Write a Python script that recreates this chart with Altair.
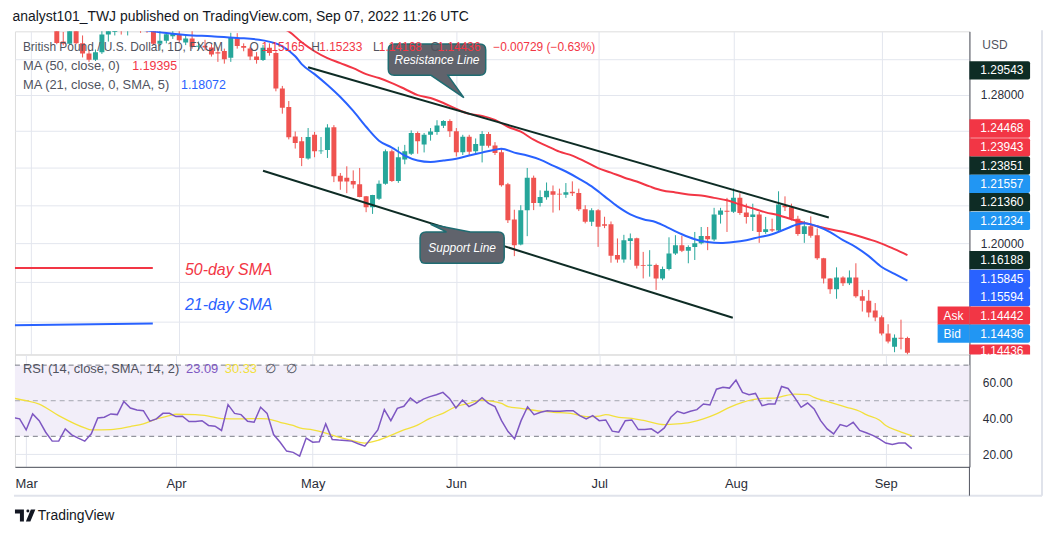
import json
import altair as alt
import pandas as pd

FONT = "Liberation Sans"

# ---------------- daily candles, bar index 0 = 1 Mar 2022 (Mon-Fri bars) ----------------
opens = [1.3415, 1.3285, 1.3380, 1.3340, 1.3255, 1.3100, 1.3088, 1.3180, 1.3090, 1.3033,
         1.2997, 1.3039, 1.3141, 1.3155, 1.3180, 1.3170, 1.3260, 1.3195, 1.3190, 1.3180,
         1.3088, 1.3105, 1.3130, 1.3141, 1.3095, 1.3117, 1.3070, 1.3076, 1.3066, 1.3040,
         1.3046, 1.3008, 1.3120, 1.3075, 1.3060, 1.3015, 1.2995, 1.3065, 1.3035, 1.2835,
         1.2733, 1.2571, 1.2545, 1.2451, 1.2580, 1.2490, 1.2497, 1.2622, 1.2358, 1.2347,
         1.2330, 1.2313, 1.2248, 1.2190, 1.2235, 1.2315, 1.2490, 1.2330, 1.2446, 1.2477,
         1.2590, 1.2527, 1.2580, 1.2595, 1.2630, 1.2655, 1.2600, 1.2485, 1.2570, 1.2490,
         1.2520, 1.2585, 1.2522, 1.2485, 1.2313, 1.2125, 1.1995, 1.2174, 1.2348, 1.2213,
         1.2243, 1.2275, 1.2262, 1.2256, 1.2272, 1.2266, 1.2180, 1.2113, 1.2174, 1.2100,
         1.2100, 1.1940, 1.1916, 1.2013, 1.2027, 1.1888, 1.1884, 1.1888, 1.1819, 1.1868,
         1.1948, 1.1991, 1.1962, 1.1981, 1.2001, 1.2039, 1.2020, 1.2150, 1.2172, 1.2166,
         1.2240, 1.2162, 1.2138, 1.2152, 1.2060, 1.2074, 1.2068, 1.2200, 1.2190, 1.2130,
         1.2049, 1.2090, 1.2043, 1.1923, 1.1819, 1.1763, 1.1824, 1.1794, 1.1824, 1.1728,
         1.1705, 1.1655, 1.1621, 1.1539, 1.1473, 1.1518, 1.15165]
highs = [1.3437, 1.3390, 1.3440, 1.3355, 1.3280, 1.3155, 1.3200, 1.3190, 1.3135, 1.3055,
         1.3055, 1.3165, 1.3210, 1.3200, 1.3200, 1.3300, 1.3300, 1.3220, 1.3230, 1.3185,
         1.3175, 1.3150, 1.3175, 1.3165, 1.3140, 1.3170, 1.3100, 1.3110, 1.3085, 1.3070,
         1.3060, 1.3150, 1.3148, 1.3090, 1.3070, 1.3040, 1.3080, 1.3090, 1.3045, 1.2850,
         1.2766, 1.2598, 1.2568, 1.2617, 1.2596, 1.2568, 1.2638, 1.2633, 1.2373, 1.2409,
         1.2387, 1.2400, 1.2250, 1.2256, 1.2333, 1.2500, 1.2500, 1.2515, 1.2525, 1.2604,
         1.2598, 1.2590, 1.2617, 1.2660, 1.2660, 1.2665, 1.2617, 1.2580, 1.2580, 1.2560,
         1.2600, 1.2595, 1.2540, 1.2505, 1.2320, 1.2177, 1.2201, 1.2400, 1.2359, 1.2280,
         1.2322, 1.2306, 1.2289, 1.2319, 1.2328, 1.2289, 1.2201, 1.2185, 1.2180, 1.2140,
         1.2115, 1.2026, 1.2045, 1.2052, 1.2030, 1.1956, 1.1965, 1.1895, 1.1880, 1.2032,
         1.2043, 1.2040, 1.1990, 1.2060, 1.2086, 1.2086, 1.2187, 1.2187, 1.2240, 1.2290,
         1.2265, 1.2209, 1.2209, 1.2165, 1.2139, 1.2130, 1.2275, 1.2248, 1.2209, 1.2145,
         1.2118, 1.2142, 1.2078, 1.1925, 1.1820, 1.1876, 1.1830, 1.1860, 1.1897, 1.1760,
         1.1760, 1.1693, 1.1630, 1.1586, 1.1535, 1.1609, 1.15233]
lows = [1.3272, 1.3275, 1.3310, 1.3235, 1.3085, 1.3078, 1.3082, 1.3085, 1.3010, 1.2985,
        1.2990, 1.3030, 1.3100, 1.3135, 1.3140, 1.3135, 1.3180, 1.3150, 1.3150, 1.3080,
        1.3050, 1.3090, 1.3115, 1.3095, 1.3080, 1.3060, 1.3050, 1.3050, 1.3015, 1.2985,
        1.2975, 1.2985, 1.3060, 1.3045, 1.2995, 1.2975, 1.2990, 1.3020, 1.2820, 1.2696,
        1.2555, 1.2505, 1.2410, 1.2445, 1.2458, 1.2476, 1.2454, 1.2324, 1.2283, 1.2265,
        1.2290, 1.2243, 1.2164, 1.2155, 1.2229, 1.2310, 1.2325, 1.2320, 1.2420, 1.2470,
        1.2477, 1.2484, 1.2548, 1.2580, 1.2617, 1.2568, 1.2462, 1.2470, 1.2470, 1.2470,
        1.2430, 1.2510, 1.2470, 1.2300, 1.2107, 1.1934, 1.1990, 1.2038, 1.2175, 1.2194,
        1.2230, 1.2162, 1.2174, 1.2240, 1.2250, 1.2170, 1.2105, 1.2091, 1.1982, 1.2080,
        1.1900, 1.1900, 1.1900, 1.1915, 1.1870, 1.1819, 1.1828, 1.1760, 1.1810, 1.1860,
        1.1940, 1.1955, 1.1897, 1.1914, 1.1995, 1.1965, 1.2012, 1.2104, 1.2060, 1.2160,
        1.2150, 1.2104, 1.2065, 1.2003, 1.2050, 1.2060, 1.2060, 1.2170, 1.2120, 1.2040,
        1.2003, 1.2030, 1.1915, 1.1793, 1.1740, 1.1715, 1.1780, 1.1785, 1.1720, 1.1650,
        1.1621, 1.1601, 1.1530, 1.1490, 1.1446, 1.1460, 1.14168]
closes = [1.3285, 1.3380, 1.3340, 1.3255, 1.3092, 1.3088, 1.3180, 1.3090, 1.3033, 1.2997,
          1.3039, 1.3141, 1.3170, 1.3180, 1.3170, 1.3260, 1.3195, 1.3190, 1.3185, 1.3088,
          1.3105, 1.3142, 1.3143, 1.3108, 1.3117, 1.3070, 1.3076, 1.3066, 1.3027, 1.3032,
          1.3000, 1.3125, 1.3075, 1.3065, 1.3015, 1.2995, 1.3065, 1.3035, 1.2835, 1.2729,
          1.2566, 1.2535, 1.2454, 1.2568, 1.2490, 1.2495, 1.2620, 1.2355, 1.2327, 1.2327,
          1.2311, 1.2245, 1.2190, 1.2255, 1.2315, 1.2490, 1.2330, 1.2458, 1.2490, 1.2590,
          1.2545, 1.2580, 1.2598, 1.2631, 1.2655, 1.2600, 1.2485, 1.2570, 1.2488, 1.2530,
          1.2585, 1.2520, 1.2481, 1.2307, 1.2121, 1.1991, 1.2174, 1.2348, 1.2213, 1.2244,
          1.2278, 1.2257, 1.2258, 1.2270, 1.2264, 1.2180, 1.2113, 1.2174, 1.2087, 1.2092,
          1.1936, 1.1916, 1.2017, 1.2027, 1.1884, 1.1884, 1.1890, 1.1819, 1.1868, 1.1948,
          1.1991, 1.1962, 1.1981, 1.2001, 1.2039, 1.2022, 1.2152, 1.2173, 1.2166, 1.2240,
          1.2160, 1.2138, 1.2152, 1.2060, 1.2074, 1.2068, 1.2205, 1.2190, 1.2130, 1.2049,
          1.2090, 1.2040, 1.1923, 1.1819, 1.1763, 1.1824, 1.1794, 1.1824, 1.1728, 1.1705,
          1.1645, 1.1620, 1.1539, 1.1500, 1.1518, 1.1513, 1.14436]

# ---------------- moving averages (bar index, value) ----------------
ma50_idx = list(range(38, 137, 2))
ma50_val = [1.3185, 1.3158, 1.3096, 1.3045, 1.3006, 1.2978, 1.2950, 1.2916, 1.2894, 1.2866,
            1.2833, 1.2799, 1.2783, 1.2755, 1.2722, 1.2695, 1.2684, 1.2662, 1.2624, 1.2597,
            1.2553, 1.2520, 1.2488, 1.2467, 1.2434, 1.2399, 1.2375, 1.2349, 1.2327, 1.2301,
            1.2279, 1.2269, 1.2258, 1.2253, 1.2240, 1.2227, 1.2205, 1.2184, 1.2163, 1.2148,
            1.2127, 1.2108, 1.2090, 1.2074, 1.2061, 1.2043, 1.2022, 1.1999, 1.1970, 1.19395]
ma21_idx = [16, 20, 24, 28, 32, 36, 39, 41, 42, 44, 46, 48, 50, 52, 54, 56, 58, 60, 62, 64,
            66, 68, 70, 72, 73, 75, 77, 79, 81, 83, 85, 87, 89, 91, 93, 95, 97, 99, 101, 103,
            105, 107, 109, 111, 113, 115, 117, 119, 120, 122, 124, 126, 128, 130, 132, 134, 136]
ma21_val = [1.3175, 1.3153, 1.3138, 1.3130, 1.3121, 1.3107, 1.3073, 1.3017, 1.2972, 1.2916,
            1.2855, 1.2788, 1.2711, 1.2624, 1.2548, 1.2510, 1.2467, 1.2440, 1.2432, 1.2440,
            1.2450, 1.2467, 1.2483, 1.2499, 1.2504, 1.2483, 1.2467, 1.2445, 1.2413, 1.2381,
            1.2343, 1.2301, 1.2248, 1.2195, 1.2153, 1.2127, 1.2111, 1.2080, 1.2048, 1.2022,
            1.2007, 1.2002, 1.2007, 1.2017, 1.2033, 1.2048, 1.2074, 1.2100, 1.2106, 1.2090,
            1.2059, 1.2017, 1.1981, 1.1934, 1.1878, 1.1842, 1.18072]

# ---------------- drawings ----------------
res_idx = [43.0, 123.8]
res_val = [1.29543, 1.21360]
sup_idx = [36.0, 108.9]
sup_val = [1.23851, 1.16188]
note50_idx = [-3.0, 18.9]
note50_val = [1.18727, 1.18727]
note21_idx = [-3.0, 18.9]
note21_val = [1.15810, 1.15903]
note_text = ["50-day SMA", "21-day SMA"]
note_text_idx = [23.9, 23.9]
note_text_val = [1.18624, 1.16844]
callout_text = ["Resistance Line", "Support Line"]
callout_idx = [63.0, 66.9]
callout_val = [1.2996, 1.1978]

# ---------------- price-scale labels ----------------
box_labels = ["1.29543", "1.24468", "1.23943", "1.23851", "1.21557", "1.21360", "1.21234",
              "1.16188", "1.15845", "1.15594", "1.14442", "1.14436"]
box_pos = [1.29367, 1.26145, 1.25113, 1.24128, 1.23151, 1.22176, 1.21177,
           1.19138, 1.18164, 1.17233, 1.16291, 1.15390]
box_kind = ["dark", "red", "red", "dark", "sky", "dark", "sky",
            "dark", "blue", "blue", "red", "sky"]
last_label = ["1.14436"]
last_pos = [1.14510]
side_labels = ["Ask", "Bid"]
side_pos = [1.16291, 1.15390]
side_kind = ["red", "sky"]
price_grid = [1.16, 1.18, 1.20, 1.22, 1.24, 1.26, 1.28, 1.30]

# ---------------- RSI ----------------
rsi_idx = list(range(-2, 137))
rsi_val = [40.5, 39.8,
           33.6, 42.6, 38.8, 32.3, 27.3, 27.3, 34.2, 30.8, 29.0, 27.3,
           31.4, 40.3, 40.7, 42.6, 42.2, 49.6, 45.9, 44.8, 44.4, 38.5,
           39.8, 42.9, 42.9, 41.1, 41.3, 38.3, 38.3, 38.8, 36.1, 35.7,
           33.3, 47.8, 42.9, 42.2, 38.5, 37.9, 46.3, 42.9, 31.0, 26.7,
           21.7, 21.0, 18.9, 29.0, 26.7, 26.9, 37.0, 28.2, 27.9, 27.7,
           27.3, 25.8, 24.5, 29.0, 33.6, 45.0, 38.8, 45.7, 46.9, 51.5,
           48.7, 50.9, 52.3, 53.4, 54.7, 51.3, 45.9, 50.4, 46.7, 48.5,
           51.7, 48.5, 46.7, 38.8, 32.7, 28.6, 38.8, 46.6, 42.2, 43.5,
           44.4, 44.1, 44.1, 44.4, 44.4, 41.6, 39.8, 41.6, 38.8, 39.2,
           32.9, 32.3, 38.8, 39.2, 33.8, 33.8, 34.2, 31.8, 34.7, 40.7,
           44.1, 42.9, 44.1, 45.0, 48.2, 47.6, 56.5, 57.5, 57.1, 61.6,
           54.7, 53.4, 54.1, 47.2, 48.2, 48.2, 58.0, 56.9, 51.9, 46.3,
           48.7, 45.4, 38.8, 34.2, 31.4, 36.6, 35.5, 37.9, 33.3, 32.0,
           30.5, 28.6, 26.2, 25.4, 26.2, 26.2, 23.09]
sma_idx = [-2, 0, 2, 5, 9, 10, 13, 16, 18, 20, 22, 23, 26, 28, 30, 33, 36, 37, 39, 41,
           42, 44, 46, 48, 50, 52, 54, 56, 58, 60, 62, 64, 66, 68, 70, 71, 73, 74, 76, 79,
           81, 84, 86, 88, 89, 91, 93, 95, 98, 100, 102, 104, 106, 108, 110, 113, 115, 116,
           118, 120, 121, 124, 126, 128, 129, 131, 132, 134, 136]
sma_val = [51.5, 50.0, 48.1, 41.6, 34.7, 33.6, 33.8, 35.5, 37.0, 39.8, 41.6, 42.4, 42.2, 41.4,
           40.0, 39.8, 40.0, 39.8, 37.9, 36.1, 34.7, 33.6, 31.8, 29.5, 27.7, 26.2, 27.7, 30.5,
           33.6, 36.1, 40.1, 42.9, 46.7, 48.5, 50.4, 50.0, 48.5, 46.7, 45.7, 44.1, 43.5, 42.6,
           41.1, 41.4, 42.2, 40.7, 40.1, 38.8, 36.6, 37.0, 37.9, 39.8, 42.6, 46.3, 49.1, 51.3,
           51.5, 52.3, 53.7, 53.4, 51.9, 48.5, 46.3, 44.1, 42.2, 39.2, 36.1, 32.9, 30.33]
rsi_levels_dark = [70, 30]
rsi_levels_mid = [50]
rsi_grid = [20, 40, 60]

# ---------------- time axis ----------------
month_idx = [0, 23, 44, 66, 88, 109, 132]
month_names = ["Mar", "Apr", "May", "Jun", "Jul", "Aug", "Sep"]

assert len(opens) == len(highs) == len(lows) == len(closes) == 137
assert len(rsi_idx) == len(rsi_val)
assert len(ma50_idx) == len(ma50_val) and len(ma21_idx) == len(ma21_val)
assert len(sma_idx) == len(sma_val)

# ---------------- styling ----------------
W, H_PRICE, H_RSI = 960, 325, 113
UP, DOWN = "#26A69A", "#EF5350"
RED, BLUE, SKY, DARK = "#F23645", "#2962FF", "#2196F3", "#0E2C25"
PURPLE, YELLOW = "#7E57C2", "#F2E03C"
GRAY_TXT, AXIS_TXT = "#50535E", "#2A2E39"
GRID, FRAME, AXISLINE = "#E3E6EE", "#E0E3EB", "#50535E"
kind_color = {"dark": DARK, "red": RED, "sky": SKY, "blue": BLUE}

xs = alt.Scale(domain=[-1.72, 144.85], nice=False, zero=False)
ys = alt.Scale(type="log", domain=[1.14347, 1.31583], nice=False, zero=False)
rs = alt.Scale(domain=[12.85, 75.98], nice=False, zero=False)

ONE = pd.DataFrame({"k": [0]})


def txt(t, x, y, color, size=13, **kw):
    align = kw.pop("align", "left")
    return alt.Chart(ONE).mark_text(
        text=t, align=align, baseline="middle", font=FONT, fontSize=size, color=color, **kw
    ).encode(x=alt.value(x), y=alt.value(y))


# ---------------- price pane ----------------
candles = pd.DataFrame({"i": list(range(len(opens))), "o": opens, "h": highs,
                        "l": lows, "c": closes})
candles["dir"] = ["up" if c >= o else "down" for o, c in zip(opens, closes)]
cscale = alt.Scale(domain=["up", "down"], range=[UP, DOWN])

label_expr = ("abs(datum.value - 1.28) < 0.0001 || abs(datum.value - 1.2) < 0.0001 "
              "? format(datum.value, '.5f') : ''")

wicks = alt.Chart(candles).mark_rule(strokeWidth=1, clip=True).encode(
    x=alt.X("i:Q", scale=xs, axis=alt.Axis(values=month_idx, grid=True, labels=False,
                                           ticks=False, domain=False, title=None,
                                           gridColor=GRID)),
    y=alt.Y("l:Q", scale=ys, axis=alt.Axis(orient="right", values=price_grid, grid=True,
                                           ticks=False, domain=True, domainColor=AXISLINE,
                                           labelExpr=label_expr, labelPadding=11,
                                           labelFontSize=12, labelColor=AXIS_TXT,
                                           labelFont=FONT, title=None, gridColor=GRID)),
    y2="h:Q",
    color=alt.Color("dir:N", scale=cscale, legend=None),
)
bodies = alt.Chart(candles).mark_bar(size=5, clip=True).encode(
    x="i:Q", y="o:Q", y2="c:Q", color=alt.Color("dir:N", scale=cscale, legend=None)
)

ma50 = alt.Chart(pd.DataFrame({"i": ma50_idx, "v": ma50_val})).mark_line(
    color=RED, strokeWidth=2, clip=True, interpolate="monotone").encode(x="i:Q", y="v:Q")
ma21 = alt.Chart(pd.DataFrame({"i": ma21_idx, "v": ma21_val})).mark_line(
    color=BLUE, strokeWidth=2, clip=True, interpolate="monotone").encode(x="i:Q", y="v:Q")

channel = alt.Chart(pd.DataFrame({
    "i": res_idx + sup_idx, "v": res_val + sup_val,
    "n": ["res", "res", "sup", "sup"]})).mark_line(
    color=DARK, strokeWidth=2, clip=True).encode(x="i:Q", y="v:Q", detail="n:N")

note50 = alt.Chart(pd.DataFrame({"i": note50_idx, "v": note50_val})).mark_line(
    color=RED, strokeWidth=2, clip=True).encode(x="i:Q", y="v:Q")
note21 = alt.Chart(pd.DataFrame({"i": note21_idx, "v": note21_val})).mark_line(
    color=BLUE, strokeWidth=2, clip=True).encode(x="i:Q", y="v:Q")
notes_df = pd.DataFrame({"t": note_text, "i": note_text_idx, "v": note_text_val,
                         "col": [RED, BLUE]})
notes = alt.Chart(notes_df).mark_text(align="left", baseline="middle", font=FONT,
                                      fontSize=16, fontStyle="italic").encode(
    x="i:Q", y="v:Q", text="t:N", color=alt.Color("col:N", scale=None))

RES_SHAPE = ("M-43,-16H43Q49,-16 49,-10V9.5Q49,15.5 43,15.5H11L27,38L-6,15.5H-43"
             "Q-49,15.5 -49,9.5V-10Q-49,-16 -43,-16Z")
SUP_SHAPE = ("M-36.3,-15.8H-15.7L-31.7,-23.5L8.3,-15.8H36.3Q42.3,-15.8 42.3,-9.8V9.8"
             "Q42.3,15.8 36.3,15.8H-36.3Q-42.3,15.8 -42.3,9.8V-9.8Q-42.3,-15.8 -36.3,-15.8Z")
callouts_df = pd.DataFrame({"t": callout_text, "i": callout_idx, "v": callout_val,
                            "shape": [RES_SHAPE, SUP_SHAPE]})
callout_boxes = alt.Chart(callouts_df).mark_point(
    filled=True, size=4, fill="#60636C", stroke="#1F6C72", strokeWidth=1.5, opacity=1
).encode(x="i:Q", y="v:Q", shape=alt.Shape("shape:N", scale=None))
callout_text_l = alt.Chart(callouts_df).mark_text(
    color="white", font=FONT, fontSize=12, fontStyle="italic", baseline="middle"
).encode(x="i:Q", y="v:Q", text="t:N")

# legend
legend = [
    txt("British Pound / U.S. Dollar, 1D, FXCM", 8, 16, GRAY_TXT, size=12),
    txt("O", 236, 16, GRAY_TXT, size=12), txt("1.15165", 248, 16, RED, size=12),
    txt("H", 298, 16, GRAY_TXT, size=12), txt("1.15233", 306, 16, RED, size=12),
    txt("L", 360, 16, GRAY_TXT, size=12), txt("1.14168", 366, 16, RED, size=12),
    txt("C", 418, 16, GRAY_TXT, size=12), txt("1.14436", 425, 16, RED, size=12),
    txt("\u22120.00729 (\u22120.63%)", 481, 16, RED, size=12),
    txt("MA (50, close, 0)", 8, 35, GRAY_TXT), txt("1.19395", 118, 35, RED, size=12.5),
    txt("MA (21, close, 0, SMA, 5)", 8, 54, GRAY_TXT), txt("1.18072", 167, 54, BLUE, size=12.5),
]

# price-scale colored labels
BOX = "M-30.5,-9.2H28.5Q30.5,-9.2 30.5,-7.2V7.2Q30.5,9.2 28.5,9.2H-30.5Z"
BOX_LAST = "M-30.5,-6.7H28.5Q30.5,-6.7 30.5,-4.7V3.3H-30.5Z"
SIDE = "M-16,-9.2H16V9.2H-16Z"
boxes_df = pd.DataFrame({"t": box_labels, "v": box_pos,
                         "col": [kind_color[k] for k in box_kind]})
boxes = alt.Chart(boxes_df).mark_point(filled=True, size=4, shape=BOX, opacity=1,
                                       strokeWidth=0).encode(
    x=alt.value(990.5), y="v:Q", fill=alt.Fill("col:N", scale=None))
boxes_t = alt.Chart(boxes_df).mark_text(align="left", baseline="middle", color="white",
                                        font=FONT, fontSize=12).encode(
    x=alt.value(971), y="v:Q", text="t:N")
last_df = pd.DataFrame({"t": last_label, "v": last_pos})
last_box = alt.Chart(last_df).mark_point(filled=True, size=4, shape=BOX_LAST, opacity=1,
                                         strokeWidth=0, fill=RED).encode(
    x=alt.value(990.5), y="v:Q")
last_t = alt.Chart(last_df).mark_text(align="left", baseline="middle", color="white",
                                      font=FONT, fontSize=12).encode(
    x=alt.value(971), y="v:Q", text="t:N")
side_df = pd.DataFrame({"t": side_labels, "v": side_pos,
                        "col": [kind_color[k] for k in side_kind]})
side = alt.Chart(side_df).mark_point(filled=True, size=4, shape=SIDE, opacity=1,
                                     strokeWidth=0).encode(
    x=alt.value(944), y="v:Q", fill=alt.Fill("col:N", scale=None))
side_t = alt.Chart(side_df).mark_text(align="left", baseline="middle", color="white",
                                      font=FONT, fontSize=12).encode(
    x=alt.value(934), y="v:Q", text="t:N")
usd = txt("USD", 973, 14, GRAY_TXT, size=12)

price = alt.layer(
    wicks, bodies, ma50, ma21, channel, note50, note21, notes,
    callout_boxes, callout_text_l, *legend,
    boxes, boxes_t, last_box, last_t, side, side_t, usd,
).properties(width=W, height=H_PRICE)

# ---------------- RSI pane ----------------
month_expr = "%s[indexof(%s, datum.value)]" % (json.dumps(month_names), json.dumps(month_idx))

band = alt.Chart(pd.DataFrame({"lo": [30], "hi": [70]})).mark_rect(color="#F2EEF9").encode(
    x=alt.value(0), x2=alt.value(W),
    y=alt.Y("lo:Q", scale=rs, axis=alt.Axis(orient="right", values=rsi_grid, format=".2f",
                                            grid=True, ticks=False, domain=True,
                                            domainColor=AXISLINE, labelPadding=13,
                                            labelFontSize=12, labelColor=AXIS_TXT,
                                            labelFont=FONT, title=None, gridColor=GRID)),
    y2="hi:Q")
lv_dark = alt.Chart(pd.DataFrame({"lv": rsi_levels_dark})).mark_rule(
    color="#787B86", strokeWidth=1, strokeDash=[5, 4]).encode(
    y="lv:Q", x=alt.value(0), x2=alt.value(W))
lv_mid = alt.Chart(pd.DataFrame({"lv": rsi_levels_mid})).mark_rule(
    color="#A3A6AF", strokeWidth=1, strokeDash=[5, 4]).encode(
    y="lv:Q", x=alt.value(0), x2=alt.value(W))
rsi_sma = alt.Chart(pd.DataFrame({"i": sma_idx, "v": sma_val})).mark_line(
    color=YELLOW, strokeWidth=1.3, clip=True, interpolate="monotone").encode(
    x=alt.X("i:Q", scale=xs, axis=alt.Axis(values=month_idx, labelExpr=month_expr,
                                           grid=True, ticks=False, domain=True,
                                           domainColor=AXISLINE, labelPadding=11,
                                           labelFontSize=13, labelColor=AXIS_TXT,
                                           labelFont=FONT, title=None, gridColor=GRID)),
    y="v:Q")
rsi_line = alt.Chart(pd.DataFrame({"i": rsi_idx, "v": rsi_val})).mark_line(
    color=PURPLE, strokeWidth=1.5, clip=True).encode(x="i:Q", y="v:Q")

rsi_legend = [
    txt("RSI (14, close, SMA, 14, 2)", 8, 15, GRAY_TXT),
    txt("23.09", 172, 15, PURPLE), txt("30.33", 211, 15, YELLOW),
    txt("\u2205", 251, 15, GRAY_TXT), txt("\u2205", 273, 15, GRAY_TXT),
]

# frame + footer
frame_b = alt.Chart(ONE).mark_rule(color=FRAME, strokeWidth=2).encode(
    x=alt.value(-1), x2=alt.value(1033), y=alt.value(142))
frame_r = alt.Chart(ONE).mark_rule(color=FRAME, strokeWidth=2).encode(
    x=alt.value(1033), y=alt.value(-326), y2=alt.value(142))
axis_ext = alt.Chart(ONE).mark_rule(color=AXISLINE, strokeWidth=1).encode(
    x=alt.value(960), y=alt.value(113), y2=alt.value(142))
LOGO = ("M-10,-6H-1V6H-5V-2H-10Z M1.5,-4.5Q1.5,-6 3,-6Q4.5,-6 4.5,-4.5Q4.5,-3 3,-3"
        "Q1.5,-3 1.5,-4.5Z M6,-6H10.5L5.5,6H1Z")
logo = alt.Chart(ONE).mark_point(filled=True, size=4, shape=LOGO, fill="#131722",
                                 opacity=1, strokeWidth=0).encode(
    x=alt.value(10), y=alt.value(162))
brand = txt("TradingView", 23, 162, "#131722", size=14)

rsi = alt.layer(band, lv_dark, lv_mid, rsi_sma, rsi_line, *rsi_legend,
                frame_b, frame_r, axis_ext, logo, brand).properties(width=W, height=H_RSI)

chart = alt.vconcat(price, rsi, spacing=0, bounds="flush").resolve_scale(
    x="independent", y="independent", color="independent", fill="independent",
    shape="independent"
).properties(
    title=alt.TitleParams(
        text="analyst101_TWJ published on TradingView.com, Sep 07, 2022 11:26 UTC",
        anchor="start", fontSize=14, fontWeight="normal", color="#131722", font=FONT,
        offset=5),
    padding={"left": 4, "top": 0, "right": 0, "bottom": 0},
).configure_view(stroke=FRAME).configure(background="white")

chart.save("out.html", embed_options={"renderer": "svg", "actions": False})
